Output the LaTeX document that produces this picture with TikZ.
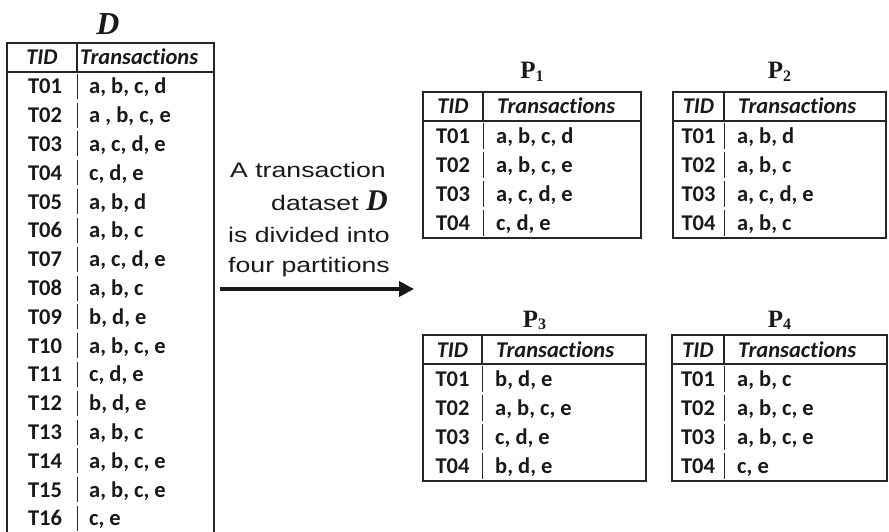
\documentclass[tikz,border=0pt]{standalone}
\usepackage{fontspec}
\setmainfont{Carlito}[RawFeature=-liga]
\newfontfamily\labelfont{Liberation Sans}[FakeStretch=1.27]
\newfontfamily\titlefont{Liberation Serif}
\usetikzlibrary{arrows.meta}

\tikzset{
    frame/.style={line width=1.6pt, draw=black!85},
    rowsep/.style={line width=1pt, draw=black!85},
    cell/.style={font=\fontsize{22.5}{24}\selectfont\bfseries, inner sep=0pt, text=black!90},
    head/.style={font=\fontsize{22.5}{24}\selectfont\bfseries\itshape, inner sep=0pt, text=black!90},
    ptitle/.style={font=\fontsize{25}{27}\selectfont\titlefont\bfseries, inner sep=0pt, text=black!90},
    caption/.style={font=\fontsize{21}{24}\selectfont\labelfont, inner sep=0pt, text=black!90}
}

% #1 name, #2 left, #3 divider, #4 right, #5 top, #6 index, #7 title baseline, #8 rows
\newcommand{\parttable}[8]{
    \node[ptitle, anchor=base] (#1title) at ({(#2+#4)/2},#7) {P\raisebox{-0.25ex}{\fontsize{16}{16}\selectfont #6}};
    \draw[frame] (#2,#5) rectangle (#4,#5+146);
    \draw[frame] (#2,#5+29) -- (#4,#5+29);
    \draw[frame] (#3,#5) -- (#3,#5+29);
    \node[head, anchor=base] (#1tid) at ({(#2+#3)/2},#5+22) {TID};
    \node[head, anchor=base west] (#1trans) at (#3+14,#5+22) {Transactions};
    \foreach \tid/\items [count=\i] in {#8} {
        \pgfmathsetmacro\yc{#5+29+(\i-0.5)*29.25}
        \draw[rowsep] (#3,\yc-13) -- (#3,\yc+13);
        \node[cell, anchor=base] (#1tid\i) at ({(#2+#3)/2},\yc+7.5) {\tid};
        \node[cell, anchor=base west] (#1row\i) at (#3+13,\yc+7.5) {\items};
    }
}

\begin{document}
\begin{tikzpicture}[x=1pt, y=-1pt]
    \useasboundingbox (0,0) rectangle (889,532);

    % the whole dataset
    \node[font=\fontsize{32}{34}\selectfont\titlefont\bfseries\itshape, inner sep=0pt, anchor=base, text=black!90] (dtitle) at (108,35) {D};
    \draw[frame] (7,545) -- (7,43) -- (214,43) -- (214,545);
    \draw[frame] (7,72) -- (214,72);
    \draw[frame] (77,43) -- (77,72);
    \node[head, anchor=base] (dtid) at (42,65) {TID};
    \node[head, anchor=base west] (dtrans) at (80,65) {Transactions};
    \foreach \tid/\items [count=\i] in {T01/{a, b, c, d}, T02/{a , b, c, e}, T03/{a, c, d, e}, T04/{c, d, e},
        T05/{a, b, d}, T06/{a, b, c}, T07/{a, c, d, e}, T08/{a, b, c}, T09/{b, d, e}, T10/{a, b, c, e},
        T11/{c, d, e}, T12/{b, d, e}, T13/{a, b, c}, T14/{a, b, c, e}, T15/{a, b, c, e}, T16/{c, e}} {
        \pgfmathsetmacro\yc{72+(\i-0.5)*28.8}
        \draw[rowsep] (77,\yc-12.5) -- (77,\yc+12.5);
        \node[cell, anchor=base] (dtid\i) at (45,\yc+7.5) {\tid};
        \node[cell, anchor=base west] (drow\i) at (89,\yc+7.5) {\items};
    }

    % caption and arrow
    \node[caption, anchor=base east] (cap1) at (386,177) {A transaction};
    \node[caption, anchor=base east] (cap2) at (388,211) {dataset \fontsize{30}{30}\titlefont\bfseries\itshape D};
    \node[caption, anchor=base east] (cap3) at (390,242) {is divided into};
    \node[caption, anchor=base east] (cap4) at (390,272) {four partitions};
    \coordinate (arrowstart) at (220,289);
    \coordinate (arrowend) at (414,289);
    \draw[line width=3.5pt, draw=black!90, -{Triangle[length=15pt, width=15pt]}] (arrowstart) -- (arrowend);

    % the four partitions
    \parttable{pa}{423}{483}{641}{92}{1}{79}{T01/{a, b, c, d}, T02/{a, b, c, e}, T03/{a, c, d, e}, T04/{c, d, e}}
    \parttable{pb}{673}{724}{886}{92}{2}{79}{T01/{a, b, d}, T02/{a, b, c}, T03/{a, c, d, e}, T04/{a, b, c}}
    \parttable{pc}{423}{482}{646}{335}{3}{327}{T01/{b, d, e}, T02/{a, b, c, e}, T03/{c, d, e}, T04/{b, d, e}}
    \parttable{pd}{672}{724}{887}{335}{4}{327}{T01/{a, b, c}, T02/{a, b, c, e}, T03/{a, b, c, e}, T04/{c, e}}
\end{tikzpicture}
\end{document}
